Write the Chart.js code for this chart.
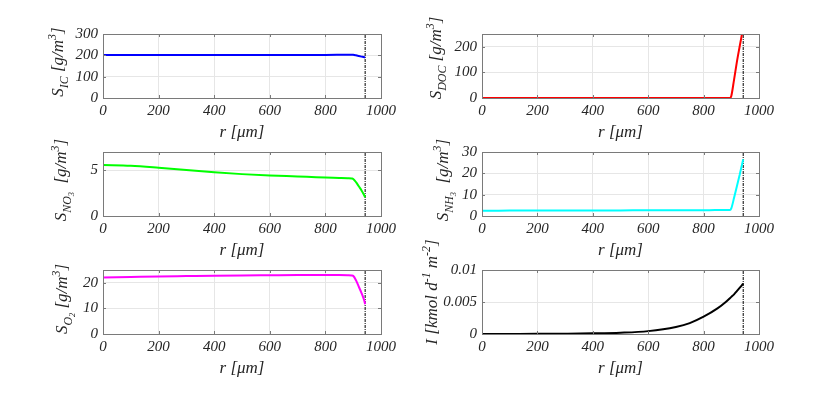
<!DOCTYPE html>
<html>
<head>
<meta charset="utf-8">
<script src="https://cdn.jsdelivr.net/npm/chart.js@4/dist/chart.umd.min.js"></script>
<style>
  html, body { margin:0; padding:0; background:#fff; }
  body { width:830px; height:395px; position:relative; overflow:hidden; }
  canvas { position:absolute; }
  .ylab { position:absolute; transform:translate(-50%,-50%) rotate(-90deg); white-space:nowrap;
          font: italic 17px "Liberation Serif", "DejaVu Serif", serif; color:#262626; line-height:1; }
  .ylab sub, .ylab sup { font-size:0.7em; vertical-align:baseline; position:relative; line-height:0; }
  .ylab sub { top:0.4em; }
  .ylab sup { top:-0.55em; }
</style>
</head>
<body>
<canvas id="cIC"></canvas>
<canvas id="cDOC"></canvas>
<canvas id="cNO3"></canvas>
<canvas id="cNH3"></canvas>
<canvas id="cO2"></canvas>
<canvas id="cI"></canvas>

<div class="ylab" style="left:57px;top:62px">S<sub>IC</sub> [g/m<sup>3</sup>]</div>
<div class="ylab" style="left:435px;top:58px">S<sub>DOC</sub> [g/m<sup>3</sup>]</div>
<div class="ylab" style="left:60px;top:180px">S<sub>NO<sub>3</sub></sub> &nbsp;[g/m<sup>3</sup>]</div>
<div class="ylab" style="left:442px;top:180px">S<sub>NH<sub>3</sub></sub> &nbsp;[g/m<sup>3</sup>]</div>
<div class="ylab" style="left:61px;top:299px">S<sub>O<sub>2</sub></sub> [g/m<sup>3</sup>]</div>
<div class="ylab" style="left:431px;top:292px">I [kmol d<sup>-1</sup> m<sup>-2</sup>]</div>

<script>
// ---- data ----
const rPoints = [0, 100, 200, 300, 400, 500, 600, 700, 750, 800, 850, 880, 895, 900, 910, 920, 930, 940, 943];
const sIC  = [202, 202, 202, 202, 202, 202, 202, 202, 202, 202, 202.5, 203, 203, 202.5, 200, 197, 194, 191, 190];
const sDOC = [0, 0, 0, 0, 0, 0, 0, 0, 0, 0, 0, 0, 0, 8, 72, 140, 200, 258, 275];
const sNO3 = [5.58, 5.5, 5.28, 5.02, 4.78, 4.58, 4.43, 4.32, 4.26, 4.2, 4.16, 4.13, 4.1, 4.05, 3.7, 3.25, 2.8, 2.25, 2.05];
const sNH3 = [2.5, 2.52, 2.55, 2.58, 2.6, 2.63, 2.66, 2.7, 2.72, 2.74, 2.76, 2.78, 2.8, 3.6, 8.5, 13.8, 19.2, 24.8, 26.6];
const sO2  = [22.1, 22.3, 22.5, 22.65, 22.8, 22.9, 22.95, 23.0, 23.0, 23.0, 23.0, 22.95, 22.85, 22.7, 21.0, 18.5, 16.0, 13.0, 11.6];
const fluxI = [0, 0.00001, 0.00002, 0.00005, 0.0001, 0.0002, 0.00045, 0.0011, 0.0017, 0.0027, 0.0040, 0.0050, 0.0056, 0.0058, 0.0062, 0.0067, 0.0072, 0.0077, 0.0079];
const rBoundary = 943;

const xTicks = [0, 200, 400, 600, 800, 1000];
const yTicksIC  = [0, 100, 200, 300];
const yTicksDOC = [0, 100, 200];
const yTicksNO3 = [0, 5];
const yTicksNH3 = [0, 10, 20, 30];
const yTicksO2  = [0, 10, 20];
const yTicksI   = [0, 0.005, 0.01];

// ---- layout ----
const FONT = '"Liberation Serif", "DejaVu Serif", serif';
const TXT = '#262626';

const boxPlugin = {
  id: 'box',
  afterDraw(chart) {
    const a = chart.chartArea, ctx = chart.ctx;
    const xs = chart.scales.x, ys = chart.scales.y;
    ctx.save();
    ctx.strokeStyle = '#7a7a7a';
    ctx.lineWidth = 1;
    ctx.beginPath();
    xs.ticks.forEach(t => {
      const px = Math.round(xs.getPixelForValue(t.value)) + 0.5;
      ctx.moveTo(px, a.bottom); ctx.lineTo(px, a.bottom - 3);
      ctx.moveTo(px, a.top); ctx.lineTo(px, a.top + 3);
    });
    ys.ticks.forEach(t => {
      const py = Math.round(ys.getPixelForValue(t.value)) + 0.5;
      ctx.moveTo(a.left, py); ctx.lineTo(a.left + 3, py);
      ctx.moveTo(a.right, py); ctx.lineTo(a.right - 3, py);
    });
    ctx.stroke();
    ctx.strokeRect(Math.round(a.left) + 0.5, Math.round(a.top) + 0.5,
                   Math.round(a.right - a.left), Math.round(a.bottom - a.top));
    ctx.restore();
  }
};

function makeChart(id, left, top, axisW, plotW, values, color, yTicks, yMax) {
  const padTop = 10, padRight = 25, xAxisH = 45, plotH = 68;
  const cv = document.getElementById(id);
  cv.width = axisW + plotW + padRight;
  cv.height = padTop + plotH + xAxisH;
  cv.style.left = left + 'px';
  cv.style.top = (top - padTop) + 'px';
  const yMin = yTicks[0];
  new Chart(cv, {
    type: 'line',
    data: {
      datasets: [
        {
          data: rPoints.map((r, i) => ({ x: r, y: values[i] })),
          borderColor: color, borderWidth: 2, pointRadius: 0,
          cubicInterpolationMode: 'monotone', fill: false
        },
        {
          data: [{ x: rBoundary, y: yMin }, { x: rBoundary, y: yMax }],
          borderColor: '#000', borderWidth: 1, borderDash: [3, 1, 1, 1], pointRadius: 0
        }
      ]
    },
    options: {
      responsive: false, animation: false, devicePixelRatio: 1,
      layout: { padding: { left: 0, top: padTop, right: padRight, bottom: 0 } },
      plugins: { legend: { display: false }, tooltip: { enabled: false } },
      scales: {
        x: {
          type: 'linear', min: 0, max: 1000,
          afterBuildTicks: s => { s.ticks = xTicks.map(v => ({ value: v })); },
          afterFit: s => { s.height = xAxisH; },
          grid: { color: '#e6e6e6', drawTicks: false },
          border: { display: false },
          ticks: { padding: 4, color: TXT, font: { family: FONT, size: 15, style: 'italic' }, maxRotation: 0,
                   callback: v => String(v) },
          title: { display: true, text: 'r [\u03bcm]', color: TXT, padding: { top: 0, bottom: 0 },
                   font: { family: FONT, size: 17, style: 'italic' } }
        },
        y: {
          type: 'linear', min: yMin, max: yMax,
          afterBuildTicks: s => { s.ticks = yTicks.map(v => ({ value: v })); },
          afterFit: s => { s.width = axisW; },
          grid: { color: '#e6e6e6', drawTicks: false },
          border: { display: false },
          ticks: { padding: 5, color: TXT, font: { family: FONT, size: 15, style: 'italic' },
                   callback: v => String(v) }
        }
      }
    },
    plugins: [boxPlugin]
  });
}

makeChart('cIC',  0,   30,  103, 278, sIC,  '#0000ff', yTicksIC,  300);
makeChart('cDOC', 410, 30,  72,  277, sDOC, '#ff0000', yTicksDOC, 250);
makeChart('cNO3', 0,   148, 103, 278, sNO3, '#00ff00', yTicksNO3, 7);
makeChart('cNH3', 410, 148, 72,  277, sNH3, '#00ffff', yTicksNH3, 30);
makeChart('cO2',  0,   266, 103, 278, sO2,  '#ff00ff', yTicksO2,  25);
makeChart('cI',   410, 266, 72,  277, fluxI, '#000000', yTicksI,  0.01);
</script>
</body>
</html>
